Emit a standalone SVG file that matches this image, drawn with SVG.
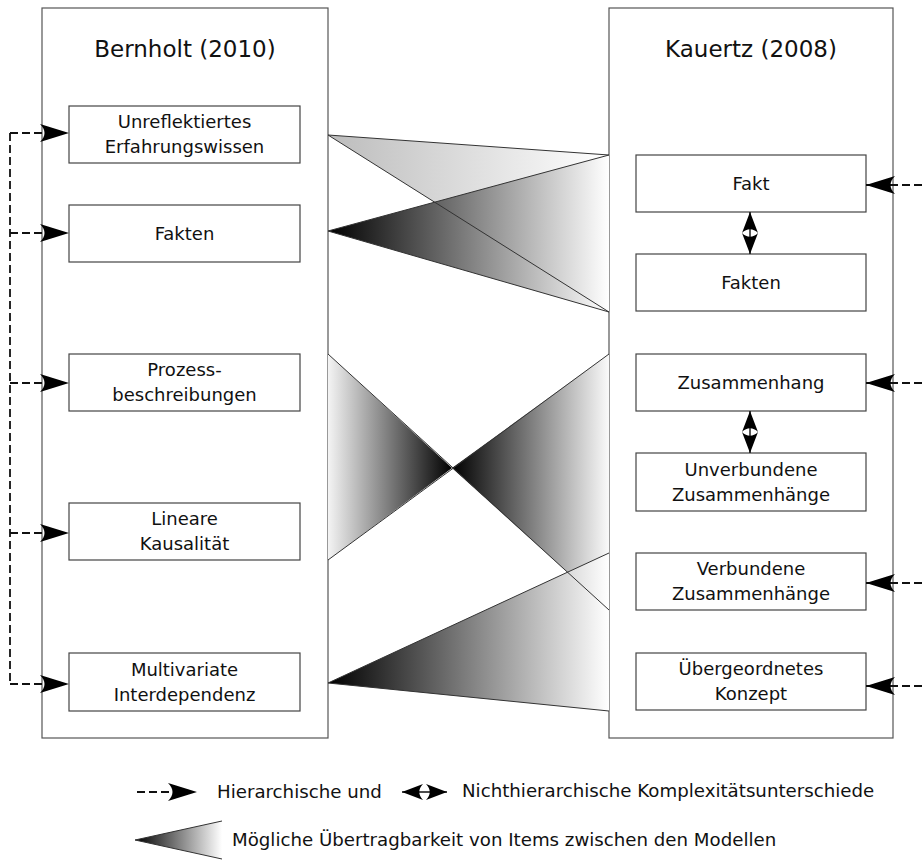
<svg xmlns="http://www.w3.org/2000/svg" width="922" height="865" viewBox="0 0 922 865">
<style>
.frame{fill:#fff;stroke:#555;stroke-width:1.2}
.box{fill:#fff;stroke:#444;stroke-width:1.2}
.t{font-family:"DejaVu Sans",Verdana,sans-serif;font-size:18px;fill:#111;text-anchor:middle}
.title{font-family:"DejaVu Sans",Verdana,sans-serif;font-size:23px;fill:#111;text-anchor:middle}
.lg{font-family:"DejaVu Sans",Verdana,sans-serif;font-size:18.2px;fill:#111}
.dash{fill:none;stroke:#111;stroke-width:1.8;stroke-dasharray:8,4}
.solid{fill:none;stroke:#111;stroke-width:1.4}
.edge{fill:none;stroke:#333;stroke-width:1}
</style>
<defs>
<marker id="big" viewBox="-30 -10 31 20" refX="0" refY="0" markerWidth="31" markerHeight="20" markerUnits="userSpaceOnUse" orient="auto">
<path d="M0,0 L-29,-9 C-23,-3 -23,3 -29,9 Z" fill="#000"/>
</marker>
<marker id="small" viewBox="-22 -9 23 18" refX="0" refY="0" markerWidth="23" markerHeight="18" markerUnits="userSpaceOnUse" orient="auto-start-reverse">
<path d="M0,0 L-21,-8 C-16,-3 -16,3 -21,8 Z" fill="#000"/>
</marker>
<linearGradient id="gLight" gradientUnits="userSpaceOnUse" x1="328" y1="0" x2="609" y2="0">
<stop offset="0" stop-color="#bcbcbc"/><stop offset="1" stop-color="#fff"/>
</linearGradient>
<linearGradient id="gDarkR" gradientUnits="userSpaceOnUse" x1="328" y1="0" x2="609" y2="0">
<stop offset="0" stop-color="#000"/><stop offset="1" stop-color="#fff"/>
</linearGradient>
<linearGradient id="gBowL" gradientUnits="userSpaceOnUse" x1="328" y1="0" x2="452" y2="0">
<stop offset="0" stop-color="#f4f4f4"/><stop offset="1" stop-color="#000"/>
</linearGradient>
<linearGradient id="gBowR" gradientUnits="userSpaceOnUse" x1="452" y1="0" x2="609" y2="0">
<stop offset="0" stop-color="#000"/><stop offset="1" stop-color="#fafafa"/>
</linearGradient>
<linearGradient id="gLeg" gradientUnits="userSpaceOnUse" x1="135" y1="0" x2="222" y2="0">
<stop offset="0" stop-color="#000"/><stop offset="1" stop-color="#fff"/>
</linearGradient>
</defs>

<g id="bernholt">
<rect class="frame" x="42" y="8" width="286" height="730"/>
<text class="title" x="185" y="57">Bernholt (2010)</text>
</g>
<g id="kauertz">
<rect class="frame" x="609" y="8" width="284" height="730"/>
<text class="title" x="751" y="57">Kauertz (2008)</text>
</g>

<g id="mappings">
<polygon points="328,135 609,155 609,312" fill="url(#gLight)"/>
<polygon points="328,231 609,155 609,312" fill="url(#gDarkR)"/>
<polygon points="328,354 452,468 328,560" fill="url(#gBowL)"/>
<polygon points="452,468 609,354 609,610" fill="url(#gBowR)"/>
<polygon points="328,683 609,553 609,711" fill="url(#gDarkR)"/>
<polyline class="edge" points="609,155 328,135 609,312"/>
<polyline class="edge" points="609,155 328,231 609,312"/>
<line class="edge" x1="328" y1="354" x2="609" y2="610"/>
<line class="edge" x1="328" y1="560" x2="609" y2="354"/>
<polyline class="edge" points="609,553 328,683 609,711"/>
</g>

<g id="b1"><rect class="box" x="69" y="106" width="231" height="57"/><text class="t" x="184.5" y="128">Unreflektiertes</text><text class="t" x="184.5" y="153">Erfahrungswissen</text></g>
<g id="b2"><rect class="box" x="69" y="205" width="231" height="57"/><text class="t" x="184.5" y="240">Fakten</text></g>
<g id="b3"><rect class="box" x="69" y="354" width="231" height="57"/><text class="t" x="184.5" y="376">Prozess-</text><text class="t" x="184.5" y="401">beschreibungen</text></g>
<g id="b4"><rect class="box" x="69" y="503" width="231" height="57"/><text class="t" x="184.5" y="525">Lineare</text><text class="t" x="184.5" y="550">Kausalität</text></g>
<g id="b5"><rect class="box" x="69" y="653" width="231" height="58"/><text class="t" x="184.5" y="675.5">Multivariate</text><text class="t" x="184.5" y="700.5">Interdependenz</text></g>

<g id="k1"><rect class="box" x="636" y="155" width="230" height="57"/><text class="t" x="751" y="190">Fakt</text></g>
<g id="k2"><rect class="box" x="636" y="254" width="230" height="57"/><text class="t" x="751" y="289">Fakten</text></g>
<g id="k3"><rect class="box" x="636" y="354" width="230" height="57"/><text class="t" x="751" y="389">Zusammenhang</text></g>
<g id="k4"><rect class="box" x="636" y="453" width="230" height="58"/><text class="t" x="751" y="475.5">Unverbundene</text><text class="t" x="751" y="500.5">Zusammenhänge</text></g>
<g id="k5"><rect class="box" x="636" y="553" width="230" height="57"/><text class="t" x="751" y="575">Verbundene</text><text class="t" x="751" y="600">Zusammenhänge</text></g>
<g id="k6"><rect class="box" x="636" y="653" width="230" height="57"/><text class="t" x="751" y="675">Übergeordnetes</text><text class="t" x="751" y="700">Konzept</text></g>

<g id="connectors">
<path class="dash" d="M10,133 V684"/>
<path class="dash" d="M10,133 H69" marker-end="url(#big)"/>
<path class="dash" d="M10,233 H69" marker-end="url(#big)"/>
<path class="dash" d="M10,383 H69" marker-end="url(#big)"/>
<path class="dash" d="M10,533 H69" marker-end="url(#big)"/>
<path class="dash" d="M10,684 H69" marker-end="url(#big)"/>
<path class="dash" d="M922,185 H866" marker-end="url(#big)"/>
<path class="dash" d="M922,383 H866" marker-end="url(#big)"/>
<path class="dash" d="M922,583 H866" marker-end="url(#big)"/>
<path class="dash" d="M922,686 H866" marker-end="url(#big)"/>
<path class="solid" d="M750,212 V254" marker-start="url(#small)" marker-end="url(#small)"/>
<path class="solid" d="M750,411 V453" marker-start="url(#small)" marker-end="url(#small)"/>
</g>

<g id="legend">
<path class="dash" d="M137,792 H197" marker-end="url(#big)"/>
<text class="lg" x="217" y="798">Hierarchische und</text>
<path class="solid" d="M402,792 H447" marker-start="url(#small)" marker-end="url(#small)"/>
<text class="lg" x="462" y="797">Nichthierarchische Komplexitätsunterschiede</text>
<polygon points="135,840 222,821 222,859" fill="url(#gLeg)"/>
<line class="edge" x1="135" y1="840" x2="222" y2="821"/>
<line class="edge" x1="135" y1="840" x2="222" y2="859"/>
<text class="lg" x="232" y="846">Mögliche Übertragbarkeit von Items zwischen den Modellen</text>
</g>
</svg>
